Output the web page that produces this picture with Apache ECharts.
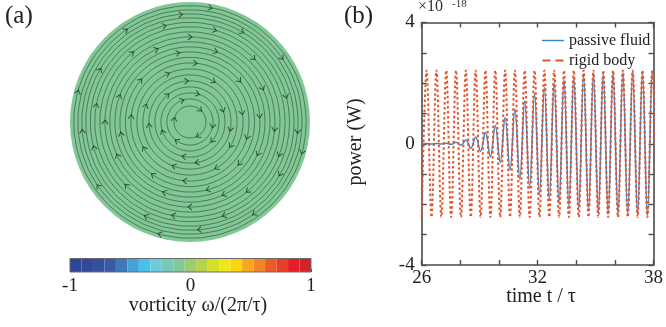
<!DOCTYPE html>
<html><head><meta charset="utf-8">
<script src="https://cdn.jsdelivr.net/npm/echarts@6/dist/echarts.min.js"></script>
<style>html,body{margin:0;padding:0;background:#fff}#c{width:666px;height:327px}</style>
</head><body><div id="c"></div>
<script>
// ---------- panel (b) data: times of the extrema of the oscillations (t / tau) ----------
const extremaTimes = [26.00, 26.254, 26.508, 26.762, 27.016, 27.27, 27.524, 27.778, 28.032, 28.286,
  28.54, 28.794, 29.048, 29.302, 29.556, 29.81, 30.064, 30.318, 30.572, 30.826,
  31.08, 31.334, 31.588, 31.842, 32.096, 32.35, 32.604, 32.858, 33.112, 33.366,
  33.62, 33.874, 34.128, 34.382, 34.636, 34.89, 35.144, 35.398, 35.652, 35.906,
  36.16, 36.414, 36.668, 36.922, 37.176, 37.43, 37.684, 37.938, 38.192];
// power in units of 1e-18 W
const rigidPower = [-2.42, 2.42, -2.42, 2.42, -2.42, 2.42, -2.42, 2.42, -2.42, 2.42,
  -2.42, 2.42, -2.42, 2.42, -2.42, 2.42, -2.42, 2.42, -2.42, 2.42,
  -2.42, 2.42, -2.42, 2.42, -2.42, 2.42, -2.42, 2.42, -2.42, 2.42,
  -2.42, 2.42, -2.42, 2.42, -2.42, 2.42, -2.42, 2.42, -2.42, 2.42,
  -2.42, 2.42, -2.42, 2.42, -2.42, 2.42, -2.42, 2.42, -2.42];
const passivePower = [0, 0.01, -0.01, 0.01, -0.01, 0.02, -0.02, 0.05, -0.05, 0.12,
  -0.15, 0.22, -0.25, 0.38, -0.43, 0.6, -0.62, 0.87, -0.87, 1.15,
  -1.18, 1.42, -1.45, 1.66, -1.68, 1.87, -1.85, 2.03, -1.98, 2.12,
  -2.08, 2.2, -2.16, 2.26, -2.22, 2.3, -2.27, 2.33, -2.3, 2.35,
  -2.33, 2.37, -2.35, 2.38, -2.37, 2.39, -2.38, 2.4, -2.39];
const xLabelValues = [26, 32, 38];
const yLabelValues = [-4, 0, 4];

// ---------- panel (a) data ----------
const streamRadii = [0.133, 0.192, 0.242, 0.292, 0.342, 0.392, 0.442, 0.492, 0.538, 0.583,
  0.625, 0.667, 0.708, 0.75, 0.792, 0.829, 0.867, 0.9, 0.933, 0.967];
const streamAngles = [0, 10, 20, 30, 40, 50, 60, 70, 80, 90, 100, 110, 120, 130, 140, 150, 160, 170, 180,
  190, 200, 210, 220, 230, 240, 250, 260, 270, 280, 290, 300, 310, 320, 330, 340, 350, 360];
const arrowPoints = [
  [0.133, 50], [0.133, 170], [0.133, 300],
  [0.192, 110], [0.192, 235], [0.192, 350],
  [0.242, 75], [0.242, 200], [0.242, 320],
  [0.292, 130], [0.292, 260], [0.292, 20],
  [0.342, 95], [0.342, 185], [0.342, 280], [0.342, 350],
  [0.392, 60], [0.392, 160], [0.392, 250], [0.392, 330],
  [0.442, 115], [0.442, 210], [0.442, 300], [0.442, 10],
  [0.492, 85], [0.492, 175], [0.492, 265], [0.492, 345],
  [0.538, 140], [0.538, 235], [0.538, 320], [0.538, 40],
  [0.583, 100], [0.583, 190], [0.583, 285], [0.583, 5],
  [0.625, 70], [0.625, 160], [0.625, 250], [0.625, 335],
  [0.667, 115], [0.667, 205], [0.667, 295], [0.667, 25],
  [0.708, 90], [0.708, 180], [0.708, 270], [0.708, 355],
  [0.75, 130], [0.75, 225], [0.75, 310], [0.75, 45],
  [0.792, 75], [0.792, 170], [0.792, 260], [0.792, 340],
  [0.829, 105], [0.829, 195], [0.829, 290], [0.829, 15],
  [0.867, 60], [0.867, 150], [0.867, 245], [0.867, 330],
  [0.9, 95], [0.9, 185], [0.9, 275], [0.9, 355],
  [0.933, 125], [0.933, 215], [0.933, 305], [0.933, 35],
  [0.967, 80], [0.967, 165], [0.967, 255], [0.967, 345]
];
const colorbarColors = ['#2e4496', '#31489b', '#344fa1', '#3a5aa8', '#3e79bc', '#44a1d9', '#45c3ee',
  '#6ecbde', '#79c8b8', '#84c998', '#9ccc6c', '#b5d445', '#d4df2a', '#f1e81a', '#fcd40b',
  '#f8a51f', '#f38428', '#ee5a27', '#ea3e26', '#e71e25', '#d3232a'];
const colorbarLabels = [-1, 0, 1];
const diskColor = '#82c896';

const SERIF = 'Liberation Serif, Times New Roman, serif';
const AX = '#4a4a4a';
const STREAM = 'rgba(20,35,25,0.72)';
const BLUE = '#3a87c8';
const RED = '#e4542c';
const chart = echarts.init(document.getElementById('c'));

const streamSeries = streamRadii.map(r => ({
  type: 'line', coordinateSystem: 'polar', polarIndex: 0, silent: true,
  data: streamAngles.map(a => [r, a]), smooth: 0.5, symbol: 'none', showSymbol: false,
  lineStyle: { color: STREAM, width: 0.65 }, z: 3
}));

const frameAxis = {
  axisLine: { show: true, onZero: false, lineStyle: { color: AX, width: 1.6 } },
  axisTick: { show: true, inside: true, length: 5, lineStyle: { color: AX, width: 1.4 } },
  splitLine: { show: false }
};

chart.setOption({
  animation: false,
  polar: [{ center: [190, 122], radius: 120 }],
  angleAxis: [{ polarIndex: 0, type: 'value', min: 0, max: 360, startAngle: 0, clockwise: false, show: false }],
  radiusAxis: [{ polarIndex: 0, type: 'value', min: 0, max: 1, show: false }],
  grid: [
    { left: 421.7, right: 4.3, top: 22.5, bottom: 62, containLabel: false },
    { left: 70, width: 241, top: 258.5, height: 13.5, show: true, z: 3, backgroundColor: 'transparent', borderColor: '#6a6a6a', borderWidth: 1 }
  ],
  xAxis: [
    Object.assign({ gridIndex: 0, type: 'value', min: 26, max: 38, interval: 2, position: 'bottom',
      axisLabel: { show: true, margin: 4, fontFamily: SERIF, fontSize: 19, color: '#222',
        alignMinLabel: 'center', alignMaxLabel: 'center', hideOverlap: false,
        formatter: v => xLabelValues.includes(v) ? String(v) : '' } }, frameAxis),
    Object.assign({ gridIndex: 0, type: 'value', min: 26, max: 38, interval: 2, position: 'top',
      axisLabel: { show: false } }, frameAxis),
    { gridIndex: 1, type: 'category', position: 'top', data: colorbarColors.map((c, i) => i), show: false },
    { gridIndex: 1, type: 'value', min: -1, max: 1, interval: 1, position: 'bottom',
      axisLine: { show: false, onZero: false }, splitLine: { show: false },
      axisTick: { show: true, inside: true, length: 3, lineStyle: { color: '#444' } },
      axisLabel: { margin: 5, fontFamily: SERIF, fontSize: 19, color: '#222',
        alignMinLabel: 'center', alignMaxLabel: 'center',
        formatter: v => colorbarLabels.includes(v) ? String(v) : '' } }
  ],
  yAxis: [
    Object.assign({ gridIndex: 0, type: 'value', min: -4, max: 4, interval: 1, position: 'left',
      axisLabel: { show: true, margin: 7, fontFamily: SERIF, fontSize: 19, color: '#222',
        formatter: v => yLabelValues.includes(v) ? String(v) : '' } }, frameAxis),
    Object.assign({ gridIndex: 0, type: 'value', min: -4, max: 4, interval: 1, position: 'right',
      axisLabel: { show: false } }, frameAxis),
    { gridIndex: 1, type: 'value', min: 0, max: 1, show: false }
  ],
  legend: {
    show: true, orient: 'vertical', left: 537, top: 27, itemWidth: 22, itemHeight: 2, itemGap: 3,
    textStyle: { fontFamily: SERIF, fontSize: 16, color: '#222', lineHeight: 17 },
    data: [
      { name: 'passive fluid', icon: 'path://M0,0h22v1.4h-22z', itemStyle: { color: BLUE } },
      { name: 'rigid body', icon: 'path://M0,0h8v2h-8z M13,0h8v2h-8z', itemStyle: { color: RED } }
    ]
  },
  graphic: [
    { type: 'text', left: 5, top: 4, style: { text: '(a)', font: '25px ' + SERIF, fill: '#222' } },
    { type: 'text', left: 344, top: 4, style: { text: '(b)', font: '25px ' + SERIF, fill: '#222' } },
    { type: 'text', x: 418, y: 7, style: { text: '×10', font: '16px ' + SERIF, fill: '#333', verticalAlign: 'middle' } },
    { type: 'text', x: 452, y: 4, style: { text: '-18', font: '11px ' + SERIF, fill: '#333', verticalAlign: 'middle' } },
    { type: 'text', x: 356, y: 142, rotation: Math.PI / 2,
      style: { text: 'power (W)', font: '20px ' + SERIF, fill: '#222', align: 'center', verticalAlign: 'middle' } },
    { type: 'text', x: 541, y: 297,
      style: { text: 'time t / τ', font: '20px ' + SERIF, fill: '#222', align: 'center', verticalAlign: 'middle' } },
    { type: 'text', x: 198, y: 306,
      style: { text: 'vorticity ω/(2π/τ)', font: '20px ' + SERIF, fill: '#222', align: 'center', verticalAlign: 'middle' } }
  ],
  series: [
    { type: 'pie', center: [190, 122], radius: 120, silent: true, label: { show: false }, labelLine: { show: false },
      itemStyle: { color: diskColor, borderWidth: 0 }, data: [{ value: 1, name: 'disk' }], z: 1 },
    ...streamSeries,
    { type: 'scatter', coordinateSystem: 'polar', polarIndex: 0, silent: true, z: 4,
      symbol: 'path://M0,10 L5,0 L10,10', symbolSize: [6, 4],
      itemStyle: { color: 'none', borderColor: STREAM, borderWidth: 0.9, opacity: 1 },
      data: arrowPoints.map(p => ({ value: p, symbolRotate: p[1] - 180 })) },
    { type: 'bar', xAxisIndex: 2, yAxisIndex: 2, barCategoryGap: '0%', silent: true,
      data: colorbarColors.map(c => ({ value: 1, itemStyle: { color: c } })) },
    { name: 'passive fluid', type: 'line', xAxisIndex: 0, yAxisIndex: 0, smooth: 0.36, symbol: 'none',
      lineStyle: { color: BLUE, width: 1.5 }, itemStyle: { color: BLUE },
      data: extremaTimes.map((t, i) => [t, passivePower[i]]) },
    { name: 'rigid body', type: 'line', xAxisIndex: 0, yAxisIndex: 0, smooth: 0.36, symbol: 'none',
      lineStyle: { color: RED, width: 2, type: [2.5, 2.5] }, itemStyle: { color: RED },
      data: extremaTimes.map((t, i) => [t, rigidPower[i]]) }
  ]
});
</script>
</body></html>
